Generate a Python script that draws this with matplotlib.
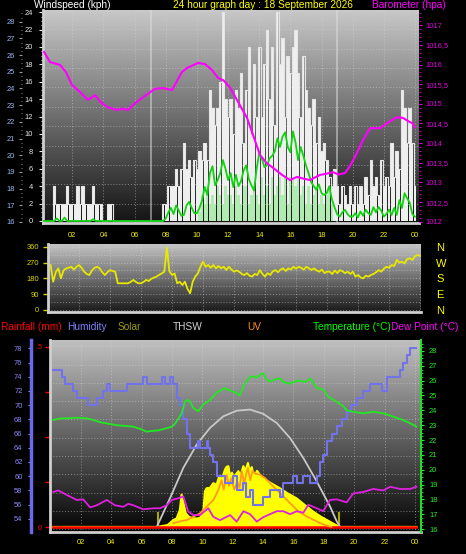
import numpy as np
import matplotlib
matplotlib.use("Agg")
import matplotlib.pyplot as plt
from matplotlib.colors import LinearSegmentedColormap
from matplotlib.ticker import FixedLocator, MultipleLocator, FuncFormatter

plt.rcParams['font.family'] = ['Liberation Sans', 'DejaVu Sans']

# ---------------- data ----------------
# 10 minute slots, 00:10 .. 24:00
slot_hours = np.arange(1, 145) / 6.0
hour_ticks = list(range(2, 25, 2))

wind_gust = [
    0, 0, 0, 0, 4, 2,
    2, 2, 2, 4, 2, 2,
    2, 4, 2, 4, 2, 2,
    2, 4, 2, 2, 2, 0,
    0, 2, 2, 0, 0, 0,
    0, 0, 0, 0, 0, 0,
    0, 0, 0, 0, 0, 0,
    0, 0, 0, 0, 2, 2,
    4, 4, 4, 6, 4, 6,
    9, 6, 7, 5, 7, 6,
    8, 7, 9, 7, 15, 13,
    11, 13, 16, 24, 14, 12,
    14, 10, 15, 13, 17, 9,
    15, 20, 10, 18, 12, 20,
    12, 18, 22, 14, 20, 11,
    24, 18, 21, 12, 19, 17,
    20, 22, 17, 12, 19, 15,
    13, 11, 14, 9, 12, 8,
    9, 7, 5, 4, 6, 4,
    2, 4, 3, 2, 4, 2,
    4, 2, 4, 2, 5, 3,
    7, 4, 5, 3, 7, 4,
    5, 4, 9, 5, 8, 6,
    15, 13, 9, 13, 9, 4,
]

wind_avg_bars = [0] * 60 + [
    1, 3, 2, 4, 2, 3,
    2, 4, 3, 2, 4, 3,
    3, 2, 4, 3, 2, 4,
    4, 2, 3, 4, 3, 2,
    5, 3, 4, 2, 5, 3,
    4, 5, 3, 5, 2, 5,
    5, 4, 5, 3, 4, 2,
    4, 2, 3, 4, 2, 3,
    2, 3, 4, 2, 0, 0,
] + [0] * 30

wind_avg_line = [
    0, 0, 0, 0, 0, 0.3,
    0, 0, 0.4, 0, 0, 0,
    0, 0, 0, 0, 0, 0,
    0, 0.2, 0, 0, 0, 0,
    0, 0, 0, 0, 0, 0,
    0, 0, 0, 0, 0, 0,
    0, 0, 0, 0, 0, 0,
    0, 0, 0, 0, 0, 0.3,
    1.0, 1.5, 0.8, 1.8, 1.2, 0.6,
    0.7, 1.8, 2.2, 1.5, 0.9, 0.9,
    1.5, 2.4, 3.9, 3.0, 5.5, 6.3,
    4.1, 4.7, 5.5, 7.0, 6.0, 4.7,
    5.5, 3.9, 5.3, 4.0, 4.6, 5.8,
    6.4, 4.8, 4.1, 3.5, 6.0, 7.8,
    7.2, 6.2, 6.4, 7.2, 7.5, 8.0,
    9.5, 8.5, 9.7, 10.2, 8.5, 7.9,
    10.3, 9.0, 7.0, 8.5, 7.5, 6.4,
    5.5, 4.5, 4.0, 3.6, 4.2, 3.2,
    3.0, 3.2, 4.0, 2.5, 1.6, 0.8,
    0.5, 1.0, 1.3, 0.8, 0.5, 0.5,
    0.9, 0.4, 1.1, 0.6, 1.3, 0.9,
    0.7, 1.6, 1.0, 1.6, 1.2, 0.5,
    0.8, 1.3, 0.7, 1.5, 0.7, 2.4,
    1.5, 3.2, 2.6, 2.1, 0.8, 0.5,
]

wind_dir = [
    256, 161, 215, 237, 180, 225,
    237, 240, 246, 230, 245, 256,
    240, 218, 205, 199, 225, 240,
    246, 237, 215, 199, 215, 227,
    222, 218, 152, 152, 152, 152,
    152, 160, 171, 160, 152, 152,
    160, 171, 165, 178, 184, 190,
    200, 208, 218, 355, 220, 199,
    208, 152, 160, 142, 161, 120,
    95, 161, 190, 208, 246, 275,
    246, 256, 240, 256, 237, 250,
    237, 246, 228, 246, 230, 218,
    225, 218, 205, 199, 210, 195,
    190, 205, 199, 227, 205, 190,
    210, 199, 220, 227, 215, 230,
    237, 222, 237, 230, 246, 235,
    246, 240, 230, 246, 237, 228,
    237, 225, 218, 230, 210, 218,
    218, 205, 225, 210, 227, 220,
    210, 218, 205, 218, 190, 199,
    185, 180, 195, 190, 199, 205,
    215, 227, 218, 235, 246, 240,
    256, 250, 285, 270, 275, 265,
    290, 294, 285, 305, 313, 309,
]
compass = ['N', 'E', 'S', 'W', 'N']

barometer = [
    (0.18, 1016.32), (0.57, 1016.06), (1.21, 1015.99), (1.6, 1015.8), (1.98, 1015.48),
    (2.49, 1015.30), (3.0, 1015.10), (3.46, 1015.22), (3.8, 1015.05), (4.23, 1014.92),
    (4.87, 1014.84), (5.2, 1014.88), (5.57, 1014.84), (5.89, 1014.97), (6.54, 1015.17),
    (7.31, 1015.38), (7.82, 1015.40), (8.40, 1015.35), (9.04, 1015.81), (9.36, 1015.91),
    (10.07, 1016.04), (10.52, 1016.01), (10.97, 1015.86), (11.35, 1015.66), (11.7, 1015.6),
    (12.13, 1015.41), (12.64, 1015.05), (13.22, 1014.64), (13.6, 1014.21), (14.05, 1013.70),
    (14.45, 1013.5), (14.89, 1013.37), (15.47, 1013.19), (15.98, 1013.06), (16.43, 1013.14),
    (16.8, 1013.1), (17.26, 1013.06), (17.9, 1013.19), (18.3, 1013.22), (18.74, 1013.26),
    (19.1, 1013.2), (19.51, 1013.24), (19.8, 1013.4), (20.15, 1013.65), (20.67, 1014.08),
    (21.12, 1014.38), (21.76, 1014.38), (22.21, 1014.51), (22.85, 1014.66), (23.24, 1014.64),
    (23.6, 1014.55), (23.82, 1014.51), (24.0, 1014.40),
]

sun_times = [7.05, 19.0]

humidity = [
    (0.18, 75), (0.62, 75), (0.73, 74), (0.95, 73), (1.5, 72), (1.72, 71), (2.48, 70),
    (3.04, 71), (3.47, 72), (3.7, 73), (3.91, 72), (5.01, 73), (6.1, 74), (6.33, 73),
    (7.32, 74), (7.54, 73), (7.87, 74), (8.08, 73), (8.3, 71), (8.52, 70), (8.74, 68),
    (8.97, 66), (9.19, 64), (9.73, 65), (9.84, 64), (10.28, 65), (10.39, 64), (10.5, 63),
    (10.72, 62), (10.94, 60), (11.16, 60), (11.49, 59), (12.04, 60), (12.26, 58),
    (12.7, 59), (12.9, 57), (13.14, 58), (13.35, 56), (13.58, 56), (14.01, 57),
    (14.45, 58), (14.9, 58), (15.1, 57), (15.33, 59), (15.77, 59), (16.0, 60), (16.21, 59),
    (16.65, 60), (17.09, 59), (17.53, 60), (17.75, 62), (17.96, 63), (18.19, 65),
    (18.52, 66), (18.85, 67), (19.18, 68), (19.5, 69), (19.8, 70), (20.16, 71),
    (20.6, 72), (21.04, 73), (21.48, 73), (21.81, 72), (22.14, 74), (22.6, 74),
    (23.02, 75), (23.23, 76), (23.45, 77), (23.68, 78), (24.1, 78),
]

temperature = [
    (0.18, 23.35), (0.6, 23.45), (1.06, 23.46), (1.7, 23.5), (2.38, 23.46), (2.8, 23.35),
    (3.25, 23.2), (3.8, 23.1), (4.35, 23.0), (4.9, 22.95), (5.45, 22.9), (5.9, 22.75),
    (6.33, 22.56), (6.55, 22.6), (7.1, 22.65), (7.65, 22.8), (8.0, 22.9), (8.2, 23.1),
    (8.45, 23.5), (8.64, 23.8), (8.85, 24.6), (9.0, 24.7), (9.18, 24.6), (9.4, 24.16),
    (9.73, 23.94), (10.06, 24.4), (10.5, 24.7), (10.94, 25.2), (11.2, 25.35),
    (11.49, 25.5), (11.9, 25.3), (12.2, 25.2), (12.45, 25.0), (12.7, 25.6),
    (12.92, 26.0), (13.2, 26.3), (13.58, 26.2), (13.8, 26.4), (14.01, 26.5),
    (14.2, 26.1), (14.45, 25.95), (14.7, 26.05), (15.1, 26.15), (15.33, 25.9),
    (15.77, 25.8), (16.1, 25.95), (16.4, 26.0), (16.8, 25.9), (17.09, 26.15),
    (17.3, 25.9), (17.53, 25.5), (17.96, 25.4), (18.3, 24.9), (18.85, 24.58),
    (19.28, 24.27), (19.5, 24.0), (19.94, 23.9), (20.6, 23.8), (21.26, 23.9),
    (21.92, 23.8), (22.58, 23.57), (23.2, 23.35), (23.68, 23.13), (24.1, 22.9),
]

dew_point = [
    (0.18, 18.5), (0.51, 18.6), (1.06, 18.3), (1.72, 17.96), (2.15, 18.0), (2.6, 17.46),
    (3.04, 17.6), (3.7, 17.96), (4.24, 17.6), (4.79, 17.5), (5.12, 17.7), (5.45, 17.6),
    (6.1, 17.33), (6.77, 17.4), (7.2, 17.4), (7.65, 17.6), (7.98, 17.96), (8.41, 18.07),
    (8.74, 18.2), (9.07, 17.17), (9.4, 16.94), (9.84, 16.94), (10.39, 17.4),
    (10.72, 16.82), (11.16, 16.6), (11.82, 16.94), (12.26, 16.5), (12.7, 17.2),
    (13.14, 17.0), (13.58, 16.5), (14.01, 16.8), (14.45, 17.0), (14.9, 17.2),
    (15.33, 17.2), (15.77, 17.0), (16.21, 17.2), (16.65, 17.1), (16.98, 17.64),
    (17.53, 17.4), (17.96, 17.2), (18.4, 17.96), (18.85, 18.0), (19.5, 17.8),
    (19.94, 18.4), (20.6, 18.5), (21.26, 18.7), (21.92, 18.6), (22.36, 18.85),
    (23.02, 18.7), (23.68, 18.7), (24.1, 18.85),
]

solar = [
    (0.18, 0), (7.0, 0), (7.7, 10), (7.87, 21), (8.08, 37), (8.3, 45), (8.52, 91),
    (8.63, 173), (8.74, 130), (8.9, 73), (9.1, 55), (9.3, 48), (9.6, 45), (9.84, 48),
    (10.06, 75), (10.17, 191), (10.28, 207), (10.5, 209), (10.72, 234), (10.94, 226),
    (11.1, 269), (11.27, 251), (11.49, 307), (11.6, 322), (11.71, 325), (11.82, 268),
    (11.95, 290), (12.04, 260), (12.2, 280), (12.37, 298), (12.5, 270), (12.7, 325),
    (12.85, 300), (13.0, 342), (13.1, 298), (13.25, 320), (13.4, 262), (13.6, 300),
    (13.9, 265), (14.5, 235), (15.1, 207), (15.6, 180), (16.2, 153), (16.7, 120),
    (17.3, 82), (17.8, 55), (18.4, 28), (18.8, 10), (19.07, 0), (24.1, 0),
]

thsw = [
    (6.99, 0), (7.87, 155), (8.74, 316), (9.62, 440), (10.5, 530), (11.38, 592),
    (12.26, 622), (13.14, 628), (14.01, 605), (14.9, 556), (15.77, 476), (16.65, 369),
    (17.53, 244), (18.4, 111), (18.85, 30), (19.07, 0),
]

uv_index = [
    (8.08, 0.2), (8.5, 0.3), (8.96, 0.37), (9.4, 0.55), (9.84, 0.73), (10.28, 1.09),
    (10.72, 1.44), (11.05, 1.98), (11.16, 2.26), (11.27, 2.5), (11.4, 2.0), (11.6, 2.78),
    (11.75, 2.2), (11.9, 2.6), (12.1, 2.0), (12.3, 2.4), (12.45, 2.1), (12.59, 2.98),
    (12.75, 2.3), (12.9, 2.9), (13.0, 3.16), (13.15, 2.5), (13.3, 3.0), (13.5, 2.85),
    (13.8, 2.8), (14.12, 2.62), (14.56, 2.26), (15.0, 1.9), (15.44, 1.55), (15.88, 1.19),
    (16.32, 0.84), (16.87, 0.57), (17.3, 0.39), (17.75, 0.21), (18.1, 0.1), (18.5, 0.0),
]

rainfall = [(0.18, 0.0), (24.1, 0.0)]

# ---------------- helpers ----------------
W, H = 466, 554
PT = 0.72  # points per pixel at 100 dpi
fig = plt.figure(figsize=(W / 100, H / 100), dpi=100)
fig.patch.set_facecolor('black')


def box(left, top, right, bottom):
    return [left / W, 1 - bottom / H, (right - left) / W, (bottom - top) / H]


def put(x, y, s, color, size=7.3):
    fig.text(x / W, 1 - y / H, s, color=color, fontsize=size, ha='left', va='center')


def background(rect, bottom, top, xlim, ylim, yticks):
    ax = fig.add_axes(rect)
    cmap = LinearSegmentedColormap.from_list('bg', [bottom, top])
    ax.imshow(np.linspace(0, 1, 256).reshape(-1, 1), cmap=cmap, origin='lower',
              extent=[0, 1, 0, 1], transform=ax.transAxes, aspect='auto', zorder=0)
    ax.set_xlim(xlim)
    ax.set_ylim(ylim)
    ax.set_xticks(hour_ticks)
    ax.set_yticks(yticks)
    ax.grid(True, color='#d8d8d8', alpha=0.5, lw=0.7, ls=(0, (1, 2)))
    ax.tick_params(length=0, labelbottom=False, labelleft=False)
    for s in ax.spines.values():
        s.set_visible(False)
    return ax


def hide_spines(ax, keep=()):
    for name, s in ax.spines.items():
        s.set_visible(name in keep)


hour_fmt = FuncFormatter(lambda v, p: f"{int(round(v)) % 24:02d}")
comma_fmt = FuncFormatter(lambda v, p: f"{v:g}".replace('.', ','))
frame_col = '#cfcfcf'
tick_size = 5.4

# ---------------- top panel: wind + barometer ----------------
top_rect = box(43, 10, 419, 223)
top_x = (0.116, 24.26)
background(top_rect, '#141414', '#c8c8c8', top_x, (0, 11), range(12))

ax_w = fig.add_axes(top_rect)
ax_w.patch.set_visible(False)
for t in sun_times:
    ax_w.axvline(t, color='#e0e0e0', lw=1.3, alpha=0.55, zorder=1)
ax_w.bar(slot_hours, wind_gust, width=0.14, color='#efefef', lw=0, zorder=2)
ax_w.plot(slot_hours, wind_gust, color='#e4e4e4', lw=0.8, drawstyle='steps-mid', zorder=2)
ax_w.bar(slot_hours, wind_avg_bars, width=0.14, color='#b2ebb2', lw=0, zorder=3)
ax_w.plot(slot_hours, wind_avg_line, color='#12d212', lw=1.3, zorder=4)
ax_w.set_xlim(top_x)
ax_w.set_ylim(-0.23, 24.25)
ax_w.yaxis.set_major_locator(MultipleLocator(2))
ax_w.yaxis.set_minor_locator(MultipleLocator(0.5))
ax_w.xaxis.set_major_locator(FixedLocator(hour_ticks))
ax_w.xaxis.set_major_formatter(hour_fmt)
ax_w.tick_params(axis='y', colors='#e8e8e8', labelsize=tick_size, length=4 * PT, width=0.8, pad=6 * PT)
ax_w.tick_params(axis='y', which='minor', colors='#e8e8e8', length=2 * PT, width=0.6)
ax_w.tick_params(axis='x', colors='#f0f000', labelsize=tick_size, length=0, pad=9.5 * PT)
hide_spines(ax_w, ('left', 'bottom'))
for s in ('left', 'bottom'):
    ax_w.spines[s].set_color(frame_col)
    ax_w.spines[s].set_linewidth(2)

ax_b = ax_w.twinx()
ax_b.plot(*zip(*barometer), color='#ff00ff', lw=1.5, zorder=5)
ax_b.set_ylim(1011.967, 1017.387)
ax_b.yaxis.set_major_locator(MultipleLocator(0.5))
ax_b.yaxis.set_minor_locator(MultipleLocator(0.1))
ax_b.yaxis.set_major_formatter(comma_fmt)
ax_b.tick_params(axis='y', colors='#e000e0', labelsize=tick_size, length=3 * PT, width=0.8, pad=3 * PT)
ax_b.tick_params(axis='y', which='minor', colors='#e000e0', length=1.5 * PT, width=0.6)
hide_spines(ax_b)

ax_o = ax_w.twinx()
ax_o.set_ylim(15.94, 28.7)
ax_o.yaxis.tick_left()
ax_o.spines['left'].set_position(('outward', 21 * PT))
ax_o.yaxis.set_major_locator(MultipleLocator(1))
ax_o.yaxis.set_minor_locator(MultipleLocator(0.25))
ax_o.tick_params(axis='y', colors='#9db8ee', labelsize=tick_size, length=3 * PT, width=0.8, pad=4 * PT)
ax_o.tick_params(axis='y', which='minor', colors='#9a9a9a', length=1.5 * PT, width=0.6)
ax_o.tick_params(axis='y', which='major', color='#9a9a9a')
hide_spines(ax_o)

put(34, 5, 'Windspeed (kph)', '#ffffff')
put(173, 5, '24 hour graph day : 18 September 2026', '#ffff00')
put(372, 5, 'Barometer (hpa)', '#ff00ff')

# ---------------- middle panel: wind direction ----------------
mid_rect = box(48, 244, 421, 312)
mid_x = (0, 24.06)
mid_y = (-11.4, 375.5)
background(mid_rect, '#1a1a1a', '#c4c4c4', mid_x, mid_y, range(0, 361, 45))

ax_d = fig.add_axes(mid_rect)
ax_d.patch.set_visible(False)
ax_d.plot(slot_hours, wind_dir, color='#e8e800', lw=1.3)
ax_d.set_xlim(mid_x)
ax_d.set_ylim(mid_y)
ax_d.set_yticks(range(0, 361, 90))
ax_d.set_xticks([])
ax_d.tick_params(axis='y', colors='#d8d800', labelsize=tick_size, length=5 * PT, width=1, pad=4 * PT)
hide_spines(ax_d, ('left', 'bottom'))
for s in ('left', 'bottom'):
    ax_d.spines[s].set_color(frame_col)
    ax_d.spines[s].set_linewidth(2)

ax_c = ax_d.twinx()
ax_c.set_ylim(mid_y)
ax_c.set_yticks(range(0, 361, 90))
ax_c.set_yticklabels(compass)
ax_c.tick_params(axis='y', colors='#ffff00', labelsize=8, length=0, pad=15 * PT)
hide_spines(ax_c)

# legend row
put(1, 327, 'Rainfall (mm)', '#ff0000')
put(67, 327, 'Humidity', '#8080ff')
put(118, 327, 'Solar', '#9c9c10')
put(173, 327, 'THSW', '#d0d0d0')
put(247, 327, 'UV', '#ff8c1a')
put(313, 327, 'Temperature (°C)', '#00ff00')
put(391, 327, 'Dew Point (°C)', '#ff00ff')

# ---------------- bottom panel: climate ----------------
low_rect = box(50, 340, 421, 532)
low_x = (-0.04, 24.4)
background(low_rect, '#040404', '#c0c0c0', low_x, (-0.15, 10.34), range(11))

ax_r = fig.add_axes(low_rect)
ax_r.patch.set_visible(False)
ax_r.set_xlim(low_x)
ax_r.set_ylim(-0.135, 5.19)
ax_r.set_yticks([0, 5])
ax_r.set_yticks([1.25, 2.5, 3.75], minor=True)
ax_r.xaxis.set_major_locator(FixedLocator(hour_ticks))
ax_r.xaxis.set_major_formatter(hour_fmt)
ax_r.tick_params(axis='x', colors='#f0f000', labelsize=tick_size, length=0, pad=6.5 * PT)
ax_r.tick_params(axis='y', which='both', colors='#ff0000', labelsize=tick_size, length=5 * PT, width=1,
                 pad=3 * PT)
hide_spines(ax_r, ('left', 'bottom'))
for s in ('left', 'bottom'):
    ax_r.spines[s].set_color(frame_col)
    ax_r.spines[s].set_linewidth(2)

ax_s = ax_r.twinx()
ax_s.fill_between(*zip(*solar), 0, color='#ffff00', lw=0)
ax_s.plot(*zip(*solar), color='#ffff00', lw=1.6)
ax_s.vlines(sun_times, 0, 80, color='#a8a800', lw=1.5)
ax_s.plot(*zip(*thsw), color='#c8c8c8', lw=1.3)
ax_s.set_ylim(-26.75, 1000)
ax_s.axis('off')

ax_rl = ax_r.twinx()
ax_rl.plot(*zip(*rainfall), color='#ff0000', lw=1.8)
ax_rl.set_ylim(-0.135, 5.19)
ax_rl.axis('off')

ax_u = ax_r.twinx()
ax_u.plot(*zip(*uv_index), color='#ff9a1a', lw=1.3)
ax_u.set_ylim(-0.267, 10)
ax_u.axis('off')

ax_h = ax_r.twinx()
ax_h.plot(*zip(*humidity), color='#7272ea', lw=1.5, drawstyle='steps-post')
ax_h.set_ylim(52.13, 79.17)
ax_h.yaxis.tick_left()
ax_h.spines['left'].set_position(('outward', 19.5 * PT))
ax_h.yaxis.set_major_locator(MultipleLocator(2))
ax_h.yaxis.set_minor_locator(MultipleLocator(0.5))
ax_h.tick_params(axis='y', colors='#8a8aff', labelsize=tick_size, length=3 * PT, width=0.8, pad=5 * PT)
ax_h.tick_params(axis='y', which='minor', colors='#7272ea', length=1.5 * PT, width=0.6)
hide_spines(ax_h, ('left',))
ax_h.spines['left'].set_color('#6a6ae6')
ax_h.spines['left'].set_linewidth(2.5)

ax_t = ax_r.twinx()
ax_t.plot(*zip(*temperature), color='#22e822', lw=1.3)
ax_t.plot(*zip(*dew_point), color='#e020e0', lw=1.3)
ax_t.set_ylim(15.8, 28.74)
ax_t.yaxis.set_major_locator(MultipleLocator(1))
ax_t.yaxis.set_minor_locator(MultipleLocator(0.25))
ax_t.tick_params(axis='y', colors='#22ee22', labelsize=tick_size, length=3 * PT, width=0.8, pad=5 * PT)
ax_t.tick_params(axis='y', which='minor', colors='#22ee22', length=1.5 * PT, width=0.6)
hide_spines(ax_t, ('right',))
ax_t.spines['right'].set_color('#22dd22')
ax_t.spines['right'].set_linewidth(1.5)

fig.savefig('out.png', dpi=100, facecolor='black')
